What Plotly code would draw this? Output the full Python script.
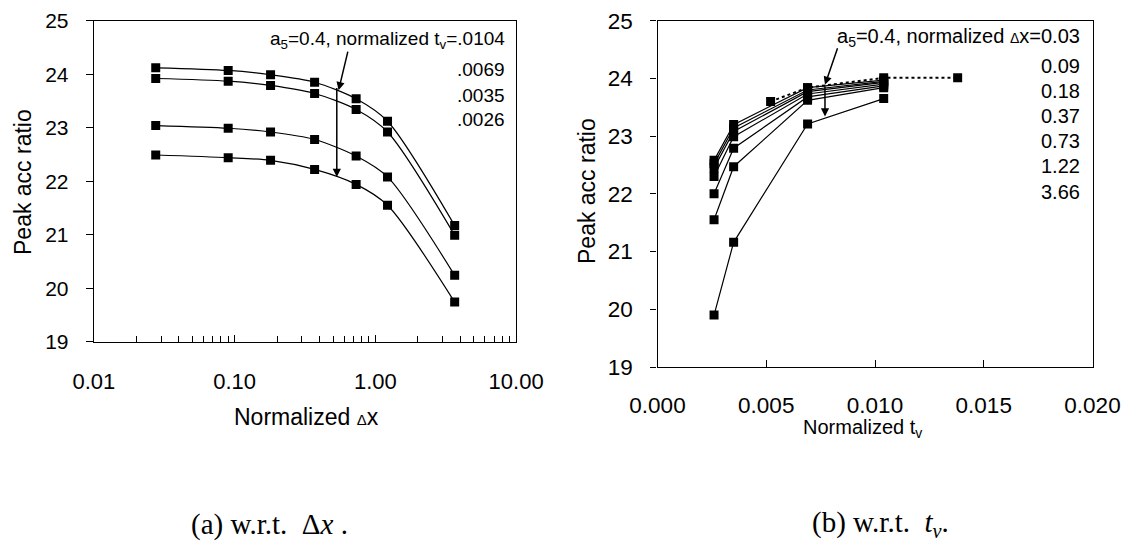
import numpy as np
import plotly.graph_objects as go
from plotly.subplots import make_subplots

W, H = 1126, 541

# (a) peak acc ratio vs normalized dx, one curve per normalized tv
dx_vals = [0.0275, 0.09, 0.18, 0.37, 0.73, 1.22, 3.66]
tv_labels = ['.0104', '.0069', '.0035', '.0026']
peak_tv_0104 = [24.12, 24.07, 23.99, 23.85, 23.54, 23.12, 21.17]
peak_tv_0069 = [23.92, 23.87, 23.79, 23.64, 23.34, 22.92, 20.99]
peak_tv_0035 = [23.04, 22.99, 22.92, 22.78, 22.47, 22.08, 20.24]
peak_tv_0026 = [22.49, 22.44, 22.39, 22.22, 21.94, 21.55, 19.74]

# (b) peak acc ratio vs normalized tv, one line per normalized dx
tv_vals = [0.0026, 0.0035, 0.0069, 0.0104]
dx_labels = ['0.03', '0.09', '0.18', '0.37', '0.73', '1.22', '3.66']
peak_dx_003 = [22.58, 23.20, 23.84, 23.97]
peak_dx_009 = [22.52, 23.14, 23.80, 23.95]
peak_dx_018 = [22.45, 23.08, 23.77, 23.93]
peak_dx_037 = [22.30, 22.99, 23.73, 23.90]
peak_dx_073 = [22.00, 22.79, 23.68, 23.87]
peak_dx_122 = [21.55, 22.47, 23.62, 23.84]
peak_dx_366 = [19.90, 21.16, 23.21, 23.65]
# dotted reference line
tv_ref = [0.0052, 0.0069, 0.0104, 0.0138]
peak_ref = [23.60, 23.84, 24.01, 24.01]

SANS = 'Liberation Sans, Arial, sans-serif'
SERIF = 'Liberation Serif, Times New Roman, serif'


def px(x):
    return x / W


def py(y):
    return 1 - y / H


fig = make_subplots(rows=1, cols=2)

marker = dict(symbol='square', size=9, color='black')
for ys in [peak_tv_0104, peak_tv_0069, peak_tv_0035, peak_tv_0026]:
    fig.add_trace(go.Scatter(x=dx_vals, y=ys, mode='lines+markers', marker=marker,
                             line=dict(color='black', width=1.2, shape='spline', smoothing=0.8),
                             showlegend=False), row=1, col=1)

for ys in [peak_dx_003, peak_dx_009, peak_dx_018, peak_dx_037, peak_dx_073, peak_dx_122, peak_dx_366]:
    fig.add_trace(go.Scatter(x=tv_vals, y=ys, mode='lines+markers', marker=marker,
                             line=dict(color='black', width=1.2), showlegend=False), row=1, col=2)
fig.add_trace(go.Scatter(x=tv_ref, y=peak_ref, mode='lines+markers', marker=marker,
                         line=dict(color='black', width=2, dash='dot'), showlegend=False), row=1, col=2)

# axes
minor_log = [m * 10.0 ** e for e in (-2, -1, 0) for m in range(2, 10)]
fig.update_xaxes(type='log', range=[-2, 1], dtick=1, tickformat='.2f',
                 domain=[px(93.9), px(516.1)], showline=True, linecolor='black', linewidth=1.3,
                 mirror=True, ticks='inside', ticklen=7, tickcolor='black', showgrid=False,
                 zeroline=False, tickfont=dict(family=SANS, size=22, color='black'),
                 ticklabelstandoff=20, automargin=False,
                 minor=dict(tickmode='array', tickvals=minor_log, ticks='inside', ticklen=6,
                            tickcolor='black', showgrid=False),
                 row=1, col=1)
fig.update_yaxes(range=[19, 25], dtick=1, domain=[py(341.7), py(20.7)],
                 showline=True, linecolor='black', linewidth=1.3, mirror=True,
                 ticks='outside', ticklen=7, tickcolor='black', showgrid=False, zeroline=False,
                 tickfont=dict(family=SANS, size=21, color='black'), ticklabelstandoff=13,
                 automargin=False, row=1, col=1)
fig.update_xaxes(range=[0, 0.02], dtick=0.005, tickformat='.3f',
                 domain=[px(657.5), px(1092.5)], showline=True, linecolor='black', linewidth=1.3,
                 mirror=True, ticks='inside', ticklen=7, tickcolor='black', showgrid=False,
                 zeroline=False, tickfont=dict(family=SANS, size=22.5, color='black'),
                 ticklabelstandoff=18, automargin=False, row=1, col=2)
fig.update_yaxes(range=[19, 25], dtick=1, domain=[py(367), py(20.7)],
                 showline=True, linecolor='black', linewidth=1.3, mirror=True,
                 ticks='outside', ticklen=6, tickcolor='black', showgrid=False, zeroline=False,
                 tickfont=dict(family=SANS, size=22.5, color='black'), ticklabelstandoff=13,
                 automargin=False, row=1, col=2)

ann = []
# axis titles and captions
ann.append(dict(text='Peak acc ratio', x=px(23), y=py(182), textangle=-90,
                font=dict(family=SANS, size=23)))
ann.append(dict(text='Peak acc ratio', x=px(587), y=py(191), textangle=-90,
                font=dict(family=SANS, size=23)))
ann.append(dict(text='Normalized <span style="font-size:15px">Δ</span>x', x=px(306), y=py(417),
                font=dict(family=SANS, size=23)))
ann.append(dict(text='Normalized t<sub>v</sub>', x=px(862), y=py(428),
                font=dict(family=SANS, size=20)))
ann.append(dict(text='(a) w.r.t.  Δ<i>x</i> .', x=px(269), y=py(524),
                font=dict(family=SERIF, size=29)))
ann.append(dict(text='(b) w.r.t.  <i>t<sub>ν</sub></i>.', x=px(880), y=py(524),
                font=dict(family=SERIF, size=29)))

# series labels
left_label_y = [40, 69, 95, 119]
for i, lab in enumerate(tv_labels):
    txt = 'a<sub>5</sub>=0.4, normalized t<sub>v</sub>=' + lab if i == 0 else lab
    ann.append(dict(text=txt, x=px(507), y=py(left_label_y[i]), xanchor='right',
                    font=dict(family=SANS, size=19)))
right_label_y = [37.7, 65.7, 90.7, 115.7, 141, 166, 192.3]
for i, lab in enumerate(dx_labels):
    txt = 'a<sub>5</sub>=0.4, normalized <span style="font-size:14px">Δ</span>x=' + lab if i == 0 else lab
    ann.append(dict(text=txt, x=px(1081.7), y=py(right_label_y[i]), xanchor='right',
                    font=dict(family=SANS, size=20)))

for a in ann:
    a.update(xref='paper', yref='paper', showarrow=False)
    a.setdefault('xanchor', 'center')
    a['yanchor'] = 'middle'
    a['font'].setdefault('color', 'black')

# arrows (data coordinates)
arrow = dict(text='', showarrow=True, arrowhead=2, arrowsize=1.1, arrowwidth=1.5,
             arrowcolor='black', standoff=0, startstandoff=0)
ann.append(dict(arrow, xref='x', yref='y', axref='x', ayref='y',
                x=np.log10(0.548), y=23.70, ax=np.log10(0.641), ay=24.45))
ann.append(dict(arrow, xref='x', yref='y', axref='x', ayref='y',
                x=np.log10(0.532), y=22.08, ax=np.log10(0.532), ay=23.77))
ann.append(dict(arrow, xref='x2', yref='y2', axref='x2', ayref='y2',
                x=0.0077, y=23.89, ax=0.0083, ay=24.55))
ann.append(dict(arrow, xref='x2', yref='y2', axref='x2', ayref='y2',
                x=0.0077, y=23.34, ax=0.0077, ay=23.89))

fig.update_layout(width=W, height=H, margin=dict(l=0, r=0, t=0, b=0),
                  plot_bgcolor='white', paper_bgcolor='white', annotations=ann,
                  font=dict(family=SANS, color='black'))

# drop the browser's default 8px body margin so the figure sits at the page corner
fig.write_html("out.html", config={'displayModeBar': False},
               post_script="document.body.style.margin='0';")
